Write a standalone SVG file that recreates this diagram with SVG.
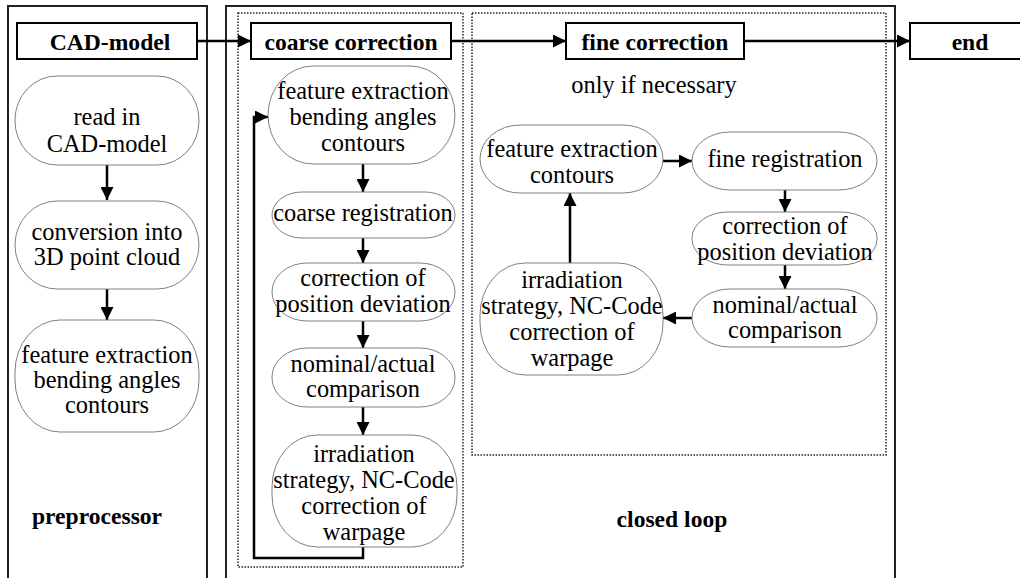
<svg xmlns="http://www.w3.org/2000/svg" width="1020" height="578" viewBox="0 0 1020 578">
<style>
.frame{fill:none;stroke:#222;stroke-width:2}
.dot{fill:none;stroke:#222;stroke-width:1.5;stroke-dasharray:1.5 1.5}
.hdr{fill:#fff;stroke:#000;stroke-width:2}
.node{fill:#fff;stroke:#808080;stroke-width:1}
text{font-family:'Liberation Serif','Times New Roman','DejaVu Serif',serif;fill:#000;text-anchor:middle}
.t{font-size:24.4px}
.b{font-size:23.6px;font-weight:bold}
.c{fill:none;stroke:#000;stroke-width:2.5;marker-end:url(#ah)}
</style>
<defs>
<marker id="ah" viewBox="0 0 10 10" refX="10" refY="5" markerUnits="userSpaceOnUse" markerWidth="13" markerHeight="13" orient="auto">
<path d="M0,0 L10,5 L0,10 z" fill="#000"/>
</marker>
</defs>
<rect width="1020" height="578" fill="#fff"/>
<g id="frames">
<rect class="frame" x="8" y="6" width="199" height="600"/>
<rect class="frame" x="226" y="6" width="669" height="600"/>
<rect class="dot" x="238" y="13" width="225" height="554"/>
<rect class="dot" x="472" y="13" width="414" height="442"/>
</g>
<g id="connectors">
<path class="c" d="M197,41 H251"/>
<path class="c" d="M451,41 H566"/>
<path class="c" d="M744,41 H910"/>
<path class="c" d="M107,165 V200"/>
<path class="c" d="M107,289 V320"/>
<path class="c" d="M363,164 V192"/>
<path class="c" d="M363,238 V263"/>
<path class="c" d="M363,321 V348"/>
<path class="c" d="M363,407 V435"/>
<path class="c" d="M363,547 V558 H254 V117 H268"/>
<path class="c" d="M663,161 H692"/>
<path class="c" d="M785,190 V212"/>
<path class="c" d="M785,265 V289"/>
<path class="c" d="M692,318 H663"/>
<path class="c" d="M570,263 V193"/>
</g>
<g id="cad-model"><rect class="hdr" x="17" y="23" width="180" height="36"/><text class="b" x="110" y="50">CAD-model</text></g>
<g id="coarse-correction"><rect class="hdr" x="251" y="23" width="200" height="36"/><text class="b" x="351" y="50">coarse correction</text></g>
<g id="fine-correction"><rect class="hdr" x="566" y="23" width="178" height="36"/><text class="b" x="655" y="50">fine correction</text></g>
<g id="end"><rect class="hdr" x="910" y="23" width="120" height="36"/><text class="b" x="970" y="50">end</text></g>
<g id="pre-read"><rect class="node" x="15" y="76" width="184" height="89" rx="42" ry="44"/><text class="t" x="107" y="125">read in</text><text class="t" x="107" y="152">CAD-model</text></g>
<g id="pre-convert"><rect class="node" x="15" y="201" width="184" height="88" rx="42" ry="44"/><text class="t" x="107" y="240">conversion into</text><text class="t" x="107" y="265">3D point cloud</text></g>
<g id="pre-feature"><rect class="node" x="15" y="320" width="184" height="112" rx="45" ry="52"/><text class="t" x="107" y="363">feature extraction</text><text class="t" x="107" y="388">bending angles</text><text class="t" x="107" y="413">contours</text></g>
<g id="coarse-feature"><rect class="node" x="268" y="66" width="187" height="98" rx="45" ry="49"/><text class="t" x="363" y="99">feature extraction</text><text class="t" x="363" y="125">bending angles</text><text class="t" x="363" y="151">contours</text></g>
<g id="coarse-registration"><rect class="node" x="272" y="192" width="183" height="46" rx="30" ry="23"/><text class="t" x="363" y="221">coarse registration</text></g>
<g id="coarse-position"><rect class="node" x="272" y="263" width="183" height="58" rx="35" ry="29"/><text class="t" x="363" y="286">correction of</text><text class="t" x="363" y="312">position deviation</text></g>
<g id="coarse-nominal"><rect class="node" x="272" y="348" width="183" height="59" rx="35" ry="29"/><text class="t" x="363" y="372">nominal/actual</text><text class="t" x="363" y="397">comparison</text></g>
<g id="coarse-irradiation"><rect class="node" x="272" y="435" width="185" height="112" rx="45" ry="52"/><text class="t" x="364" y="462">irradiation</text><text class="t" x="364" y="488">strategy, NC-Code</text><text class="t" x="364" y="514">correction of</text><text class="t" x="364" y="540">warpage</text></g>
<text class="t" x="654" y="93">only if necessary</text>
<g id="fine-feature"><rect class="node" x="480" y="125" width="183" height="68" rx="40" ry="34"/><text class="t" x="572" y="157">feature extraction</text><text class="t" x="572" y="183">contours</text></g>
<g id="fine-registration"><rect class="node" x="692" y="132" width="185" height="58" rx="38" ry="29"/><text class="t" x="785" y="167">fine registration</text></g>
<g id="fine-position"><rect class="node" x="692" y="212" width="185" height="53" rx="36" ry="26"/><text class="t" x="785" y="234">correction of</text><text class="t" x="785" y="260">position deviation</text></g>
<g id="fine-nominal"><rect class="node" x="692" y="289" width="185" height="58" rx="38" ry="29"/><text class="t" x="785" y="313">nominal/actual</text><text class="t" x="785" y="338">comparison</text></g>
<g id="fine-irradiation"><rect class="node" x="480" y="263" width="183" height="112" rx="45" ry="52"/><text class="t" x="572" y="288">irradiation</text><text class="t" x="572" y="314">strategy, NC-Code</text><text class="t" x="572" y="340">correction of</text><text class="t" x="572" y="366">warpage</text></g>
<text class="b" x="97" y="524">preprocessor</text>
<text class="b" x="672" y="527">closed loop</text>
</svg>
